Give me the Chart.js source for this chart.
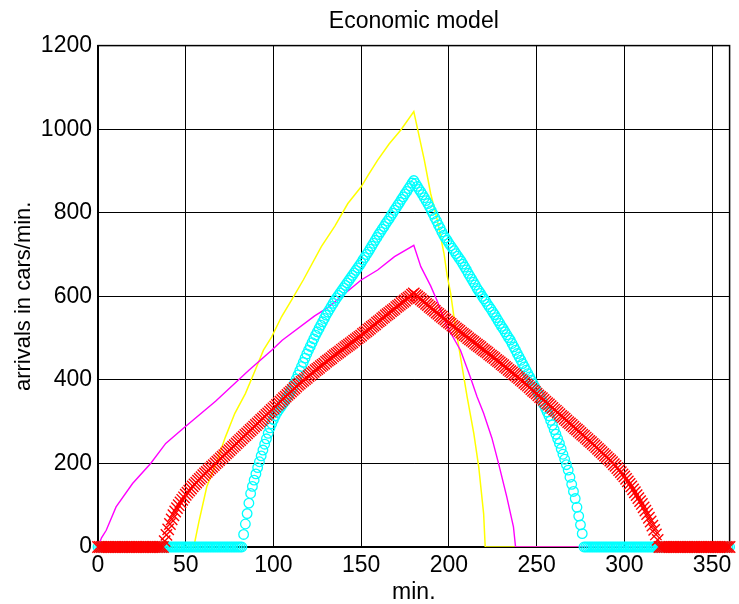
<!DOCTYPE html>
<html>
<head>
<meta charset="utf-8">
<title>Economic model</title>
<script src="https://cdn.jsdelivr.net/npm/chart.js@4"></script>
<style>
  html, body { margin: 0; padding: 0; background: #ffffff; }
  canvas { display: block; }
</style>
</head>
<body>
<canvas id="c" width="739" height="604"></canvas>
<script>
// ---- tick labels ----
const xTicks = [0, 50, 100, 150, 200, 250, 300, 350];
const yTicks = [0, 200, 400, 600, 800, 1000, 1200];

// ---- categories: one sample per minute, 0..360 ----
const minutes = Array.from({ length: 361 }, (_, i) => i);

// ---- cyan circles (one value per minute) ----
const cyanValues = [
  0,0,0,0,0,0,0,0,0,0,            // 0-9
  0,0,0,0,0,0,0,0,0,0,            // 10-19
  0,0,0,0,0,0,0,0,0,0,            // 20-29
  0,0,0,0,0,0,0,0,0,0,            // 30-39
  0,0,0,0,0,0,0,0,0,0,            // 40-49
  0,0,0,0,0,0,0,0,0,0,            // 50-59
  0,0,0,0,0,0,0,0,0,0,            // 60-69
  0,0,0,0,0,0,0,0,0,0,            // 70-79
  0,0,0,30,55,80,105,128,145,160, // 80-89
  175,190,204,218,232,246,259,272,285,295, // 90-99
  305,314,322,328,334,340,346,353,360,367, // 100-109
  374,382,392,402,412,422,432,442,452,462, // 110-119
  471,480,489,498,507,515,523,531,539,547, // 120-129
  555,562,569,576,583,590,596,602,608,614, // 130-139
  620,626,632,638,644,650,656,662,668,674, // 140-149
  680,687,693,700,706,713,720,727,734,741, // 150-159
  748,754,761,767,774,780,786,793,799,806, // 160-169
  812,819,825,832,838,845,851,858,864,871, // 170-179
  877,870,863,856,850,843,836,829,822,814, // 180-189
  805,797,788,780,771,763,754,746,740,734, // 190-199
  727,721,715,709,702,696,690,684,677,670, // 200-209
  663,655,648,641,634,627,619,613,607,600, // 210-219
  594,588,581,575,569,562,556,549,542,535, // 220-229
  528,522,515,508,501,495,487,479,471,463, // 230-239
  455,447,439,431,423,415,407,399,391,383, // 240-249
  375,367,359,350,341,332,323,314,303,292, // 250-259
  281,270,259,248,235,222,210,197,184,167, // 260-269
  150,133,116,95,74,53,32,0,0,0,           // 270-279
  0,0,0,0,0,0,0,0,0,0,            // 280-289
  0,0,0,0,0,0,0,0,0,0,            // 290-299
  0,0,0,0,0,0,0,0,0,0,            // 300-309
  0,0,0,0,0,0,0,0,0,0,            // 310-319
  0,0,0,0,0,0,0,0,0,0,            // 320-329
  0,0,0,0,0,0,0,0,0,0,            // 330-339
  0,0,0,0,0,0,0,0,0,0,            // 340-349
  0,0,0,0,0,0,0,0,0,0,            // 350-359
  0                               // 360
];

// ---- red crosses (one value per minute) ----
const redValues = [
  0,0,0,0,0,0,0,0,0,0,            // 0-9
  0,0,0,0,0,0,0,0,0,0,            // 10-19
  0,0,0,0,0,0,0,0,0,0,            // 20-29
  0,0,0,0,0,0,0,0,14,29,          // 30-39
  42,55,66,76,85,93,100,107,113,119,       // 40-49
  125,130,135,140,145,150,154,159,163,167, // 50-59
  172,176,180,184,188,192,196,200,204,208, // 60-69
  212,216,220,224,228,232,236,240,244,248, // 70-79
  252,256,260,264,268,272,276,280,284,288, // 80-89
  292,296,300,304,308,312,316,320,324,328, // 90-99
  332,336,340,344,348,352,356,360,364,368, // 100-109
  372,376,380,384,388,391,395,398,402,405, // 110-119
  409,412,416,419,423,426,429,433,436,439, // 120-129
  443,446,449,452,456,459,462,465,468,472, // 130-139
  475,478,481,484,487,490,494,497,500,503, // 140-149
  506,510,513,516,520,523,527,530,533,537, // 150-159
  540,543,547,550,554,557,560,564,567,570, // 160-169
  574,577,580,584,587,590,594,597,600,604, // 170-179
  607,603,600,596,593,589,586,582,579,575, // 180-189
  572,568,565,561,558,554,551,547,544,540, // 190-199
  537,534,530,527,523,520,517,513,510,507, // 200-209
  504,500,497,494,491,487,484,481,478,474, // 210-219
  471,468,465,461,458,455,452,448,445,442, // 220-229
  438,435,431,428,424,421,418,414,411,407, // 230-239
  404,400,397,393,389,386,382,378,374,371, // 240-249
  367,363,359,356,352,348,344,341,337,333, // 250-259
  329,326,322,318,314,311,307,303,299,296, // 260-269
  292,288,284,281,277,273,269,266,262,258, // 270-279
  254,251,247,243,239,235,231,227,223,219, // 280-289
  215,211,207,203,198,194,189,184,179,174, // 290-299
  169,163,157,151,145,138,131,124,117,110, // 300-309
  103,95,87,79,70,61,51,41,30,17,          // 310-319
  0,0,0,0,0,0,0,0,0,0,            // 320-329
  0,0,0,0,0,0,0,0,0,0,            // 330-339
  0,0,0,0,0,0,0,0,0,0,            // 340-349
  0,0,0,0,0,0,0,0,0,0,            // 350-359
  0                               // 360
];

// ---- yellow line (vertices) ----
const yellowX = [0, 54.6, 57.5, 62, 68, 72.6, 78, 84, 89.6, 94.3, 99, 104.6, 110.3, 117, 127.3, 135, 142.4, 150, 154, 159.4, 166, 172.6, 180, 186, 189.6, 193.4, 197.2, 199, 201, 203, 206.6, 210.4, 214.2, 217, 219.8, 220.7, 360];
const yellowY = [0, 0, 60, 144, 208, 263, 320, 367, 423, 471, 503, 551, 591, 639, 719, 768, 822, 862, 890, 926, 965, 998, 1042, 926, 846, 782, 703, 650, 607, 547, 455, 359, 272, 192, 80, 0, 0];

// ---- magenta line (vertices) ----
const magentaX = [0, 2, 4.7, 10.3, 19.7, 30, 38.6, 48, 67, 86, 99, 105, 123.5, 131, 150, 159.4, 169, 180, 184, 189.6, 193.4, 199, 206.6, 212.2, 216, 219.8, 224.5, 228.3, 233, 236.8, 238, 360];
const magentaY = [0, 22, 40, 96, 152, 200, 248, 282, 349, 423, 471, 495, 553, 573, 639, 663, 695, 722, 671, 625, 588, 527, 471, 407, 360, 320, 261, 200, 120, 48, 0, 0];

const FONT = "'Liberation Sans', Arial, Helvetica, sans-serif";

const toPts = (xs, ys) => xs.map((x, i) => ({ x: x, y: ys[i] }));

const boxPlugin = {
  id: 'box',
  beforeDatasetsDraw(chart) {
    const { ctx, chartArea: a } = chart;
    ctx.save();
    ctx.strokeStyle = '#000000';
    ctx.lineWidth = 1.5;
    ctx.strokeRect(a.left, a.top, a.right - a.left, a.bottom - a.top);
    ctx.restore();
  }
};

new Chart(document.getElementById('c'), {
  type: 'scatter',
  data: {
    datasets: [
      {
        label: 'red',
        data: toPts(minutes, redValues),
        showLine: false,
        pointStyle: 'crossRot',
        pointRadius: 8,
        pointBorderWidth: 1.4,
        borderColor: '#ff0000',
        backgroundColor: '#ff0000',
        clip: false
      },
      {
        label: 'cyan',
        data: toPts(minutes, cyanValues),
        showLine: false,
        pointStyle: 'circle',
        pointRadius: 4.8,
        pointBorderWidth: 1.3,
        borderColor: '#00ffff',
        backgroundColor: 'rgba(0,0,0,0)',
        clip: false
      },
      {
        label: 'magenta',
        data: toPts(magentaX, magentaY),
        showLine: true,
        borderColor: '#ff00ff',
        borderWidth: 1.4,
        pointRadius: 0,
        tension: 0
      },
      {
        label: 'yellow',
        data: toPts(yellowX, yellowY),
        showLine: true,
        borderColor: '#ffff00',
        borderWidth: 1.5,
        pointRadius: 0,
        tension: 0
      }
    ]
  },
  options: {
    animation: false,
    responsive: false,
    devicePixelRatio: 1,
    events: [],
    layout: { padding: { left: 0, right: 6, top: 0, bottom: 0 } },
    plugins: {
      legend: { display: false },
      tooltip: { enabled: false },
      title: {
        display: true,
        fullSize: false,
        text: 'Economic model',
        color: '#000000',
        font: { family: FONT, size: 23, weight: 'normal', lineHeight: 1.2 },
        padding: { top: 7.5, bottom: 10.5 }
      }
    },
    scales: {
      x: {
        type: 'linear',
        min: 0,
        max: 360,
        afterFit(s) { s.height = 57; },
        afterBuildTicks(s) { s.ticks = xTicks.map(v => ({ value: v })); },
        ticks: {
          stepSize: 50,
          includeBounds: false,
          color: '#000000',
          font: { family: FONT, size: 23 },
          padding: 5,
          maxRotation: 0,
          autoSkip: false,
          callback: (v) => String(v)
        },
        grid: { color: '#000000', lineWidth: 1, drawTicks: false },
        border: { display: true, color: '#000000', width: 1.5 },
        title: {
          display: true,
          text: 'min.',
          color: '#000000',
          font: { family: FONT, size: 23, lineHeight: 1.0 },
          padding: { top: 0, bottom: 0 }
        }
      },
      y: {
        type: 'linear',
        min: 0,
        max: 1200,
        afterFit(s) { s.width = 98; },
        afterBuildTicks(s) { s.ticks = yTicks.map(v => ({ value: v })); },
        ticks: {
          stepSize: 200,
          color: '#000000',
          font: { family: FONT, size: 23 },
          padding: 6,
          callback: (v) => String(v)
        },
        grid: { color: '#000000', lineWidth: 1, drawTicks: false },
        border: { display: true, color: '#000000', width: 1.5 },
        title: {
          display: true,
          text: 'arrivals in cars/min.',
          color: '#000000',
          font: { family: FONT, size: 22, lineHeight: 1.2 },
          padding: { top: 11, bottom: 0 }
        }
      }
    }
  },
  plugins: [boxPlugin]
});
</script>
</body>
</html>
